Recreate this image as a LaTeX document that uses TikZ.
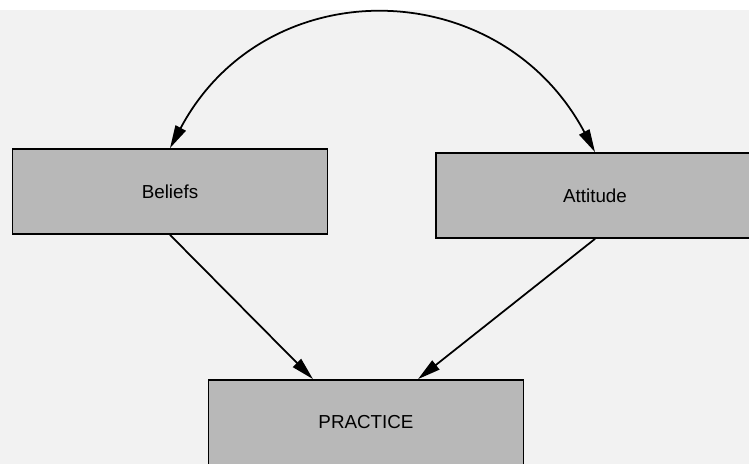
\documentclass[tikz,border=0pt]{standalone}
\usepackage{fontspec}
\setmainfont{Liberation Sans}
\usetikzlibrary{arrows.meta,calc}

\begin{document}
\begin{tikzpicture}[
    box/.style={draw, line width=1pt, minimum width=6.3cm, minimum height=1.7cm, align=center,
                font=\fontsize{10.7}{13}\selectfont, fill=black!28},
    arr/.style={-{Triangle[length=13pt,width=6.5pt]}, line width=1pt}
]
% page and dotted background
\useasboundingbox (0,0) rectangle (14.98,-9.28);
\fill[black!5] (0,-0.2) rectangle (14.98,-9.28);

\node[box] (belief) at (3.40,-3.83) {Beliefs};
\node[box, minimum width=6.36cm] (attit) at (11.90,-3.91) {Attitude};
\node[box] (pract) at (7.32,-8.45) {PRACTICE};

\draw[arr, {Triangle[length=13pt,width=6.5pt]}-{Triangle[length=13pt,width=6.5pt]}]
    (belief.north) to[out=62, in=118, looseness=1.22] (attit.north);
\draw[arr] (belief.south) -- ([xshift=-1.06cm]pract.north);
\draw[arr] (attit.south) -- ([xshift=1.04cm]pract.north);
\end{tikzpicture}
\end{document}
